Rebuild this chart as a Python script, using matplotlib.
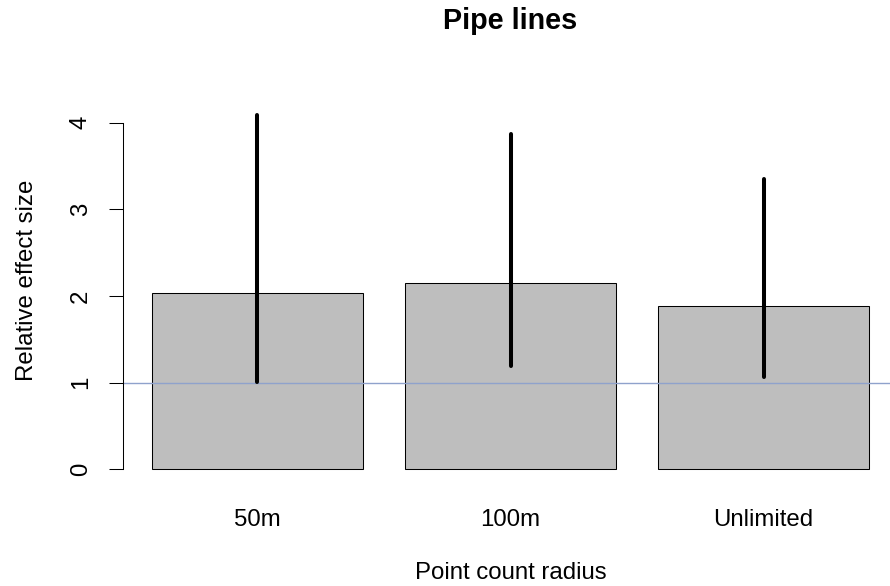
import numpy as np
import matplotlib
matplotlib.use("Agg")
import matplotlib.pyplot as plt

# Relative effect of pipe lines by point count radius
categories = ["50m", "100m", "Unlimited"]
effect = [2.03, 2.15, 1.89]
lower = [1.01, 1.19, 1.07]
upper = [4.09, 3.87, 3.35]
reference = 1.0
y_ticks = [0, 1, 2, 3, 4]

plt.rcParams["font.family"] = ["Liberation Sans", "DejaVu Sans"]

W, H = 890, 586
PX = 72 / 100  # points per pixel at dpi 100
fs = 24 * PX
fs_title = 28.8 * PX

fig = plt.figure(figsize=(W / 100, H / 100), dpi=100)

# plot region in pixels
xlim = (0.064, 3.736)
ylim = (-0.2, 4.3)
left_px, right_px = 123.3, 897.7
bottom_px, top_px = 486.6, 96.7
ax = fig.add_axes([left_px / W, 1 - bottom_px / H,
                   (right_px - left_px) / W, (bottom_px - top_px) / H])
ax.set_xlim(*xlim)
ax.set_ylim(*ylim)

pos = 0.7 + 1.2 * np.arange(len(categories))
ax.bar(pos, effect, width=1.0, color="#bebebe", edgecolor="black",
       linewidth=0.75, zorder=1)
ax.axhline(reference, color="#8fa2cc", linewidth=1.0, zorder=2)
ax.vlines(pos, lower, upper, color="black", linewidth=2.9,
          capstyle="round", zorder=3)

for side in ("top", "right", "bottom"):
    ax.spines[side].set_visible(False)
ax.spines["left"].set_bounds(0, 4)
ax.spines["left"].set_linewidth(0.75)

ax.set_yticks(y_ticks)
ax.set_yticklabels([str(t) for t in y_ticks], rotation=90, va="baseline",
                   ha="center", rotation_mode="anchor", fontsize=fs)
ax.tick_params(axis="y", length=14 * PX, width=0.75, pad=22.6 * PX)

ax.set_xticks(pos)
ax.set_xticklabels(categories, fontsize=fs, va="baseline")
ax.tick_params(axis="x", length=0, pad=(526 - bottom_px) * PX)

fig.text(510.5 / W, 1 - 29 / H, "Pipe lines", ha="center", va="baseline",
         fontsize=fs_title, fontweight="bold")
fig.text(510.5 / W, 1 - 579 / H, "Point count radius", ha="center",
         va="baseline", fontsize=fs)
fig.text(33 / W, 1 - 280 / H, "Relative effect size", ha="center",
         va="baseline", rotation=90, rotation_mode="anchor", fontsize=fs)

fig.savefig("out.png", dpi=100)
